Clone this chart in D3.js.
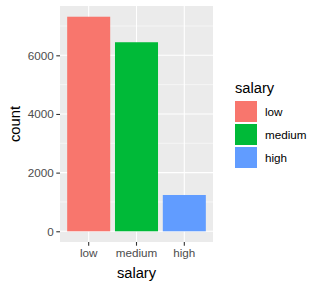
<!DOCTYPE html>
<html lang="en">
<meta charset="utf-8">
<head>
    <script src="https://d3js.org/d3.v7.min.js"></script>
    <style>
        body { margin: 0; background: #fff; }
        text { font-family: "Liberation Sans", Arial, sans-serif; }
    </style>
</head>
<body>
<script>
    // data
    var categories = ["low", "medium", "high"];
    var counts = [7316, 6446, 1237];
    var colors = ["#F8766D", "#00BA38", "#619CFF"];
    var yTicks = [0, 2000, 4000, 6000];
    var yMinor = [1000, 3000, 5000, 7000];

    var width = 326, height = 288;
    var panel = {left: 60, right: 213, top: 6, bottom: 242};

    var svg = d3.select("body")
        .append("svg")
        .attr("width", width)
        .attr("height", height);

    // scales (ggplot style expansion)
    var maxVal = d3.max(counts);
    var pad = maxVal * 0.05;
    var y = d3.scaleLinear()
        .domain([-pad, maxVal + pad])
        .range([panel.bottom, panel.top]);

    var x = d3.scaleBand()
        .domain(categories)
        .range([panel.left, panel.right])
        .paddingInner(0.1)
        .paddingOuter(0.15);

    // panel background
    svg.append("rect")
        .attr("x", panel.left)
        .attr("y", panel.top)
        .attr("width", panel.right - panel.left)
        .attr("height", panel.bottom - panel.top)
        .attr("fill", "#EBEBEB");

    // minor grid
    svg.selectAll(".minor")
        .data(yMinor)
        .enter()
        .append("line")
        .attr("x1", panel.left)
        .attr("x2", panel.right)
        .attr("y1", function(d) { return y(d) })
        .attr("y2", function(d) { return y(d) })
        .attr("stroke", "#fff")
        .attr("stroke-width", 0.55);

    // major grid
    svg.selectAll(".majorY")
        .data(yTicks)
        .enter()
        .append("line")
        .attr("x1", panel.left)
        .attr("x2", panel.right)
        .attr("y1", function(d) { return y(d) })
        .attr("y2", function(d) { return y(d) })
        .attr("stroke", "#fff")
        .attr("stroke-width", 1.1);

    svg.selectAll(".majorX")
        .data(categories)
        .enter()
        .append("line")
        .attr("x1", function(d) { return x(d) + x.bandwidth() / 2 })
        .attr("x2", function(d) { return x(d) + x.bandwidth() / 2 })
        .attr("y1", panel.top)
        .attr("y2", panel.bottom)
        .attr("stroke", "#fff")
        .attr("stroke-width", 1.1);

    // bars
    svg.selectAll(".bar")
        .data(categories)
        .enter()
        .append("rect")
        .attr("x", function(d) { return x(d) })
        .attr("y", function(d, i) { return y(counts[i]) })
        .attr("width", x.bandwidth())
        .attr("height", function(d, i) { return y(0) - y(counts[i]) })
        .attr("fill", function(d, i) { return colors[i] });

    // axes
    var yAxis = svg.append("g")
        .attr("transform", "translate(" + panel.left + ",0)")
        .call(d3.axisLeft(y).tickValues(yTicks).tickFormat(d3.format("d")).tickSize(3.7).tickPadding(2.5));
    var xAxis = svg.append("g")
        .attr("transform", "translate(0," + panel.bottom + ")")
        .call(d3.axisBottom(x).tickSize(3.7).tickPadding(2.5));

    [yAxis, xAxis].forEach(function(a) {
        a.select(".domain").remove();
        a.selectAll(".tick line").attr("stroke", "#333333").attr("stroke-width", 1.1);
        a.selectAll(".tick text")
            .attr("fill", "#4D4D4D")
            .style("font-size", "11.7px")
            .style("font-family", "'Liberation Sans', Arial, sans-serif");
    });

    // axis titles
    svg.append("text")
        .attr("x", (panel.left + panel.right) / 2)
        .attr("y", 278)
        .attr("text-anchor", "middle")
        .style("font-size", "14.7px")
        .text("salary");

    svg.append("text")
        .attr("transform", "translate(20," + ((panel.top + panel.bottom) / 2) + ") rotate(-90)")
        .attr("text-anchor", "middle")
        .style("font-size", "14.7px")
        .text("count");

    // legend
    var legend = svg.append("g");
    legend.append("text")
        .attr("x", 235)
        .attr("y", 93)
        .style("font-size", "14.7px")
        .text("salary");

    var keys = legend.selectAll(".key")
        .data(categories)
        .enter()
        .append("g")
        .attr("transform", function(d, i) { return "translate(235," + (101 + i * 23) + ")" });

    keys.append("rect")
        .attr("width", 22)
        .attr("height", 21)
        .attr("fill", function(d, i) { return colors[i] });

    keys.append("text")
        .attr("x", 30)
        .attr("y", 10.5)
        .attr("dy", "0.35em")
        .style("font-size", "11.7px")
        .text(function(d) { return d });
</script>
</body>
</html>
